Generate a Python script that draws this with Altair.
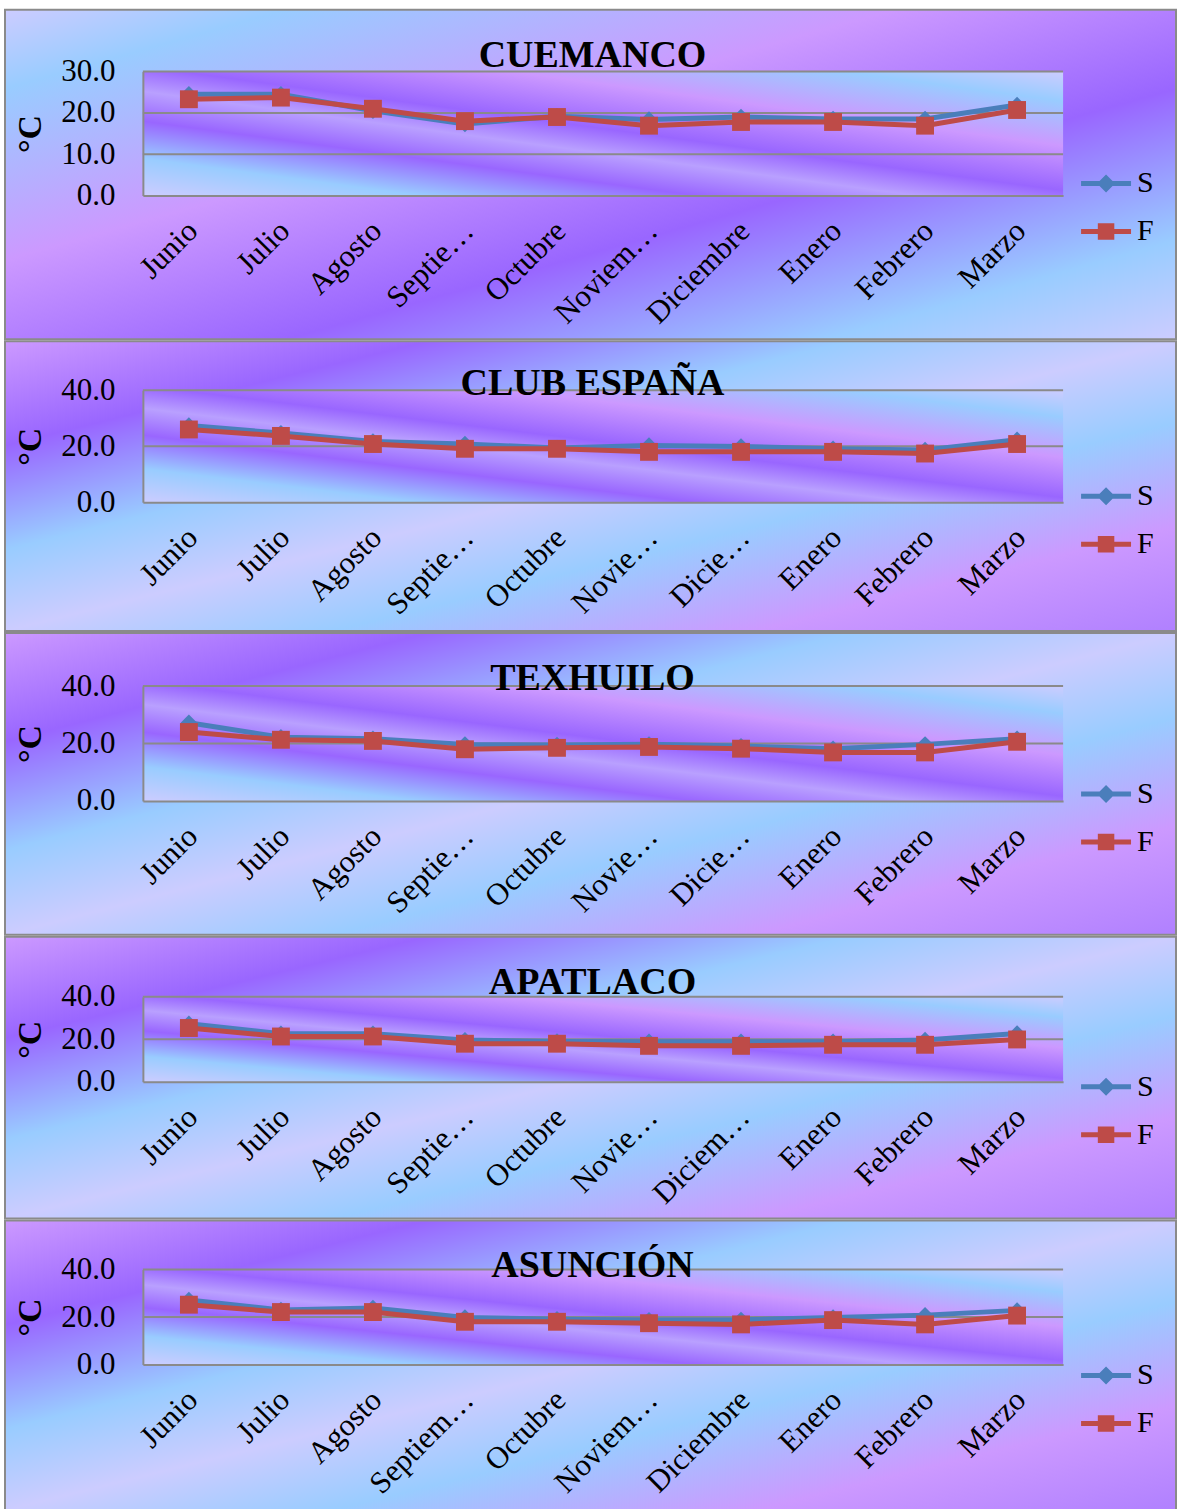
import altair as alt
import pandas as pd

# Meses de la campaña de muestreo
meses = ["Junio", "Julio", "Agosto", "Septiembre", "Octubre",
         "Noviembre", "Diciembre", "Enero", "Febrero", "Marzo"]
series = ["S", "F"]
colores = ["#4a7ebb", "#be4b48"]

# Etiquetas del eje x tal como se muestran en cada gráfica
etq_cuemanco = ["Junio", "Julio", "Agosto", "Septie…", "Octubre", "Noviem…",
                "Diciembre", "Enero", "Febrero", "Marzo"]
etq_club = ["Junio", "Julio", "Agosto", "Septie…", "Octubre", "Novie…",
            "Dicie…", "Enero", "Febrero", "Marzo"]
etq_texhuilo = ["Junio", "Julio", "Agosto", "Septie…", "Octubre", "Novie…",
                "Dicie…", "Enero", "Febrero", "Marzo"]
etq_apatlaco = ["Junio", "Julio", "Agosto", "Septie…", "Octubre", "Novie…",
                "Diciem…", "Enero", "Febrero", "Marzo"]
etq_asuncion = ["Junio", "Julio", "Agosto", "Septiem…", "Octubre", "Noviem…",
                "Diciembre", "Enero", "Febrero", "Marzo"]

# Temperatura (°C) en superficie (S) y fondo (F)
s_cuemanco = [24.5, 24.5, 20.5, 17.3, 19.2, 18.4, 19.0, 18.5, 18.5, 21.9]
f_cuemanco = [23.3, 23.7, 21.0, 18.0, 19.0, 16.9, 17.8, 17.8, 16.9, 20.7]
s_club = [27.4, 24.7, 21.7, 20.8, 19.4, 20.3, 19.9, 19.1, 18.7, 22.3]
f_club = [26.0, 23.7, 20.8, 19.1, 19.1, 18.0, 18.0, 18.0, 17.4, 20.8]
s_texhuilo = [27.2, 22.2, 21.7, 19.7, 19.5, 19.7, 19.1, 18.2, 19.7, 21.7]
f_texhuilo = [24.0, 21.3, 20.9, 18.0, 18.5, 18.8, 18.2, 16.9, 16.9, 20.6]
s_apatlaco = [27.3, 22.6, 22.6, 19.6, 19.0, 18.8, 18.8, 18.8, 19.7, 22.7]
f_apatlaco = [25.3, 21.3, 21.3, 17.9, 17.9, 16.9, 16.9, 17.4, 17.4, 19.9]
s_asuncion = [27.2, 23.0, 23.8, 19.8, 19.1, 18.7, 18.8, 19.8, 20.8, 22.8]
f_asuncion = [25.2, 22.1, 22.1, 18.0, 18.0, 17.4, 16.9, 18.7, 16.9, 20.6]

FUENTE = "Liberation Serif"
GRIS = "#8a8a8a"
ANCHO = 921

PALIDO, AZUL, VIOLETA, LILA = "#ccccff", "#99ccff", "#9966ff", "#cc99ff"


def degradado(x1, y1, x2, y2, paradas):
    return {"gradient": "linear", "x1": x1, "y1": y1, "x2": x2, "y2": y2,
            "stops": [{"offset": o, "color": c} for o, c in paradas]}


fondo_primero = degradado(0, 0, 1, 1, [(0, PALIDO), (0.12, AZUL), (0.38, LILA),
                                      (0.62, VIOLETA), (0.85, AZUL), (1, PALIDO)])
fondo_resto = degradado(0, 0, 1, 1, [(0, LILA), (0.18, VIOLETA), (0.36, AZUL),
                                    (0.5, PALIDO), (0.64, AZUL), (0.82, LILA),
                                    (1, "#b080ff")])
fondo_area = degradado(1, 0, 0, 1, [(0, PALIDO), (0.12, AZUL), (0.3, LILA),
                                   (0.48, VIOLETA), (0.58, "#b9a0ff"),
                                   (0.7, VIOLETA), (0.85, AZUL), (1, PALIDO)])

# Símbolos de la leyenda: línea con marcador al centro
RUTA_S = "M-1,-0.1H1V0.1H-1Z M0,-0.36L0.36,0L0,0.36L-0.36,0Z"
RUTA_F = "M-1,-0.1H1V0.1H-1Z M-0.33,-0.33H0.33V0.33H-0.33Z"


def tabla(etiquetas, s, f):
    filas = []
    for serie, valores in (("S", s), ("F", f)):
        for mes, etq, v in zip(meses, etiquetas, valores):
            filas.append({"mes": mes, "etiqueta": etq, "serie": serie, "temp": v})
    return pd.DataFrame(filas)


def panel(nombre, etiquetas, s, f, ymax, marcas, alto, caja, y_titulo,
          y_leyenda, fondo):
    datos = tabla(etiquetas, s, f)

    x = alt.X("etiqueta:N", sort=etiquetas,
              scale=alt.Scale(type="point", padding=0.5),
              axis=alt.Axis(title=None, labelAngle=-45, labelFont=FUENTE,
                            labelFontSize=31, labelColor="black",
                            labelPadding=20, labelOffset=-7, ticks=False,
                            domainColor=GRIS, domainWidth=2, grid=False,
                            labelOverlap=False, zindex=1))
    y = alt.Y("temp:Q", scale=alt.Scale(domain=[0, ymax], nice=False),
              axis=alt.Axis(values=marcas, format=".1f", title="°C",
                            grid=False, ticks=False, domainColor=GRIS,
                            domainWidth=2, labelFont=FUENTE, labelFontSize=31,
                            labelColor="black", labelPadding=28,
                            titleFont=FUENTE, titleFontSize=34,
                            titleFontWeight="bold", titleColor="black",
                            titlePadding=13, zindex=1))

    leyenda = alt.Legend(
        title=None, orient="none", legendX=939, legendY=y_leyenda,
        symbolSize=2500, symbolOpacity=1, symbolStrokeWidth=0, padding=0,
        rowPadding=8, labelFont=FUENTE, labelFontSize=30, labelColor="black",
        labelOffset=6, zindex=2)

    uno = pd.DataFrame({"k": [0]})
    caja_ext = alt.Chart(uno).mark_rect(
        fill=fondo, stroke=GRIS, strokeWidth=2
    ).encode(x=alt.value(-138), x2=alt.value(1034),
             y=alt.value(caja[0] + 1), y2=alt.value(caja[1] - 1))
    caja_area = alt.Chart(uno).mark_rect(fill=fondo_area).encode(
        x=alt.value(0), x2=alt.value(ANCHO), y=alt.value(0), y2=alt.value(alto))

    reglas = alt.Chart(pd.DataFrame({"temp": marcas[1:]})).mark_rule(
        color=GRIS, strokeWidth=2).encode(y=y)

    base = alt.Chart(datos).encode(x=x, y=y)
    solo_s = base.transform_filter("datum.serie === 'S'")
    solo_f = base.transform_filter("datum.serie === 'F'")

    linea_s = solo_s.mark_line(strokeWidth=5, color=colores[0])
    puntos_s = solo_s.mark_point(filled=True, size=270, opacity=1,
                                 shape="diamond", color=colores[0])
    linea_f = solo_f.mark_line(strokeWidth=5, color=colores[1])
    puntos_f = solo_f.mark_point(filled=True, size=320, opacity=1,
                                 shape="square", color=colores[1])

    # Capa sin marcas visibles que aporta la leyenda (línea + marcador)
    capa_leyenda = base.transform_filter("false").mark_point(
        filled=True, opacity=1
    ).encode(
        color=alt.Color("serie:N", scale=alt.Scale(domain=series, range=colores),
                        legend=leyenda),
        shape=alt.Shape("serie:N",
                        scale=alt.Scale(domain=series, range=[RUTA_S, RUTA_F]),
                        legend=leyenda),
    )

    titulo = alt.Chart(pd.DataFrame({"t": [nombre]})).mark_text(
        font=FUENTE, fontSize=38, fontWeight="bold", color="black",
        align="center", baseline="alphabetic"
    ).encode(text="t:N", x=alt.value(450), y=alt.value(y_titulo))

    return alt.layer(caja_ext, caja_area, reglas, linea_s, puntos_s,
                     linea_f, puntos_f, capa_leyenda, titulo
                     ).properties(width=ANCHO, height=alto)


paneles = [
    panel("CUEMANCO", etq_cuemanco, s_cuemanco, f_cuemanco, 30, [0, 10, 20, 30],
          124, (-63, 269), -5, 87, fondo_primero),
    panel("CLUB ESPAÑA", etq_club, s_club, f_club, 40, [0, 20, 40],
          112, (-50, 242), 5, 81, fondo_resto),
    panel("TEXHUILO", etq_texhuilo, s_texhuilo, f_texhuilo, 40, [0, 20, 40],
          115, (-54, 250), 4, 83, fondo_resto),
    panel("APATLACO", etq_apatlaco, s_apatlaco, f_apatlaco, 40, [0, 20, 40],
          85, (-61, 223), -3, 65, fondo_resto),
    panel("ASUNCIÓN", etq_asuncion, s_asuncion, f_asuncion, 40, [0, 20, 40],
          95, (-50, 242), 7, 81, fondo_resto),
]

chart = alt.vconcat(*paneles, spacing=0).resolve_scale(
    x="independent", y="independent", color="independent", shape="independent"
).resolve_legend(
    color="independent", shape="independent"
).properties(
    padding={"top": 8, "left": 4, "right": 0, "bottom": 0}
).configure_view(strokeWidth=0)

chart.save("out.html", embed_options={"renderer": "svg", "actions": False})
